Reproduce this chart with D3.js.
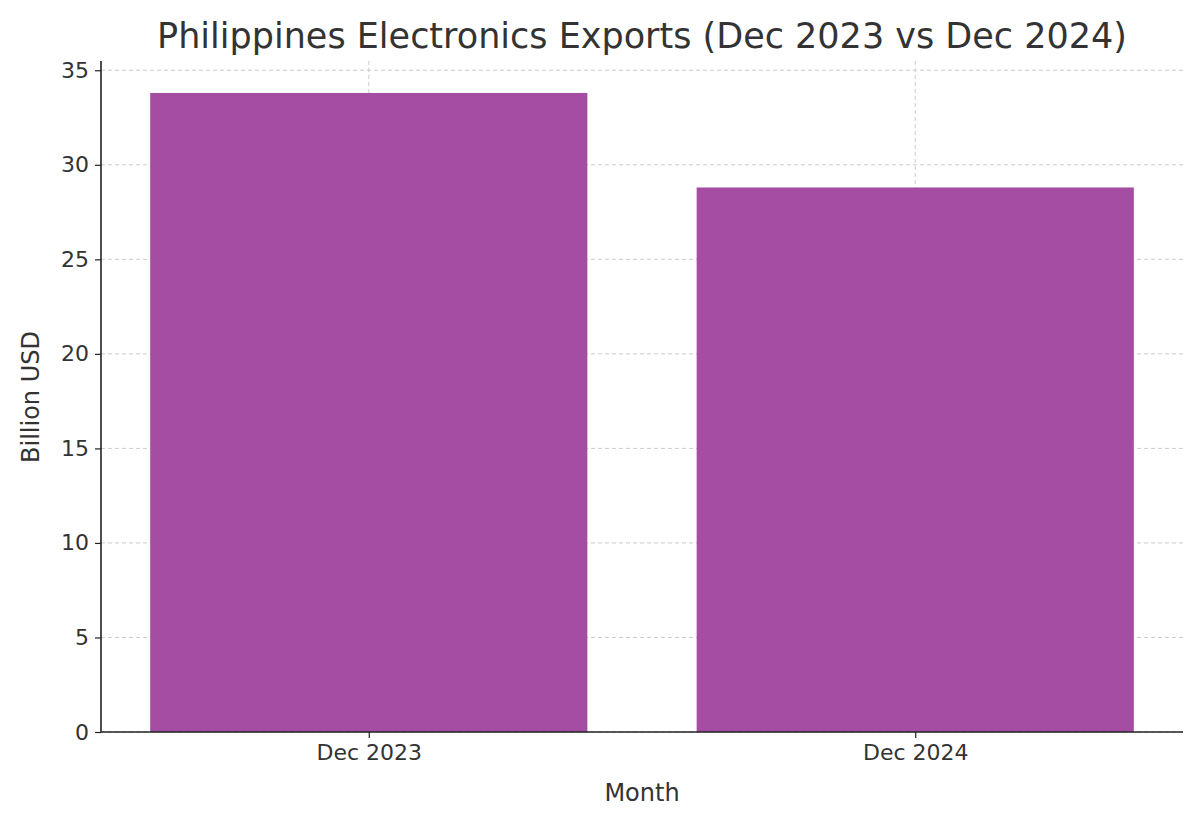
<!DOCTYPE html>
<html><head><meta charset="utf-8">
<script src="https://cdn.jsdelivr.net/npm/d3@7"></script>
<style>body{margin:0;background:#fff}text{font-family:"DejaVu Sans",sans-serif;fill:#333}</style>
</head><body><svg id="c" width="1200" height="825"></svg>
<script>
const categories = ["Dec 2023", "Dec 2024"];
const values = [33.8, 28.8];
const yTicks = [0, 5, 10, 15, 20, 25, 30, 35];

const svg = d3.select("#c");
const L = 101, R = 1183, T = 61, B = 732;
const x = d3.scaleLinear().domain([-0.49, 1.49]).range([L, R]);
const y = d3.scaleLinear().domain([0, 35.49]).range([B, T]);
const bw = x(0.4) - x(-0.4);

// grid
svg.append("g").selectAll("line").data(yTicks).join("line")
  .attr("x1", L).attr("x2", R).attr("y1", d => y(d)).attr("y2", d => y(d))
  .attr("stroke", "#ccc").attr("stroke-dasharray", "4,3");
svg.append("g").selectAll("line").data(categories).join("line")
  .attr("x1", (d, i) => x(i)).attr("x2", (d, i) => x(i)).attr("y1", T).attr("y2", B)
  .attr("stroke", "#ccc").attr("stroke-dasharray", "4,3");

// bars
svg.append("g").selectAll("rect").data(values).join("rect")
  .attr("x", (d, i) => x(i) - bw / 2).attr("width", bw)
  .attr("y", d => y(d)).attr("height", d => B - y(d))
  .attr("fill", "#a54ca3");

// axes
const yAxis = svg.append("g").attr("transform", `translate(${L},0)`)
  .call(d3.axisLeft(y).tickValues(yTicks).tickSize(6).tickPadding(6));
const xAxis = svg.append("g").attr("transform", `translate(0,${B})`)
  .call(d3.axisBottom(x).tickValues([0, 1]).tickFormat(i => categories[i]).tickSize(6).tickPadding(6));
[yAxis, xAxis].forEach(a => {
  a.select(".domain").attr("stroke", "#222").attr("stroke-width", 1.6);
  a.selectAll(".tick line").attr("stroke", "#222").attr("stroke-width", 1.2);
  a.selectAll("text").style("font-size", "22px").style("fill", "#333");
});
xAxis.select(".domain").attr("d", `M${L},0H${R}`);
yAxis.select(".domain").attr("d", `M0,${B}V${T}`);

svg.append("text").attr("x", 642).attr("y", 48).attr("text-anchor", "middle")
  .style("font-size", "35px").text("Philippines Electronics Exports (Dec 2023 vs Dec 2024)");
svg.append("text").attr("x", 642).attr("y", 801).attr("text-anchor", "middle")
  .style("font-size", "24px").text("Month");
svg.append("text").attr("transform", "translate(39,397) rotate(-90)").attr("text-anchor", "middle")
  .style("font-size", "24px").text("Billion USD");
</script></body></html>
